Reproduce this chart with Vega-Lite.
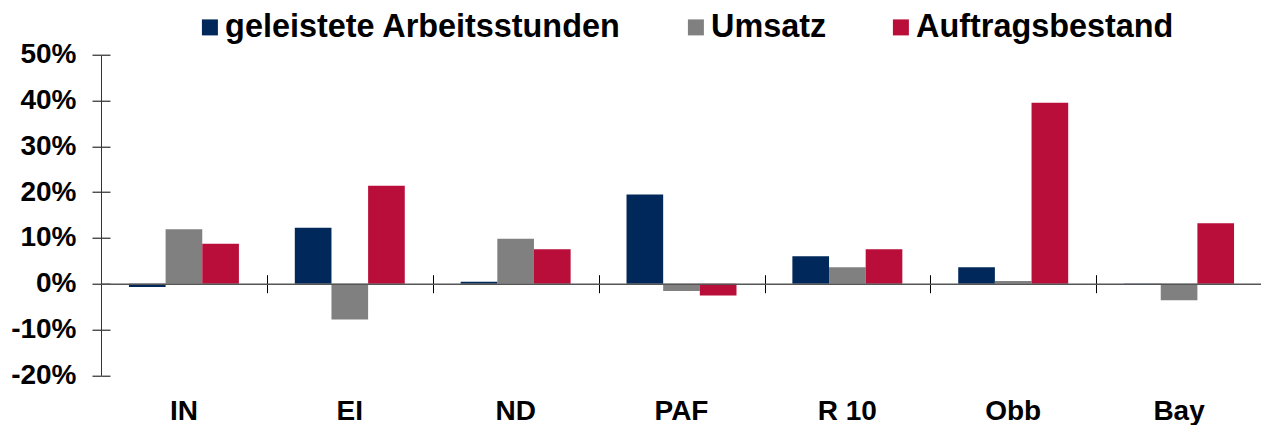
{
  "$schema": "https://vega.github.io/schema/vega-lite/v6.json",
  "width": 1161,
  "height": 320.6,
  "autosize": "none",
  "padding": {"left": 101, "top": 54.7, "right": 0, "bottom": 50},
  "background": "white",
  "config": {"view": {"stroke": null}, "font": "Liberation Sans"},
  "data": {"values": [
    {"region": "IN", "series": "geleistete Arbeitsstunden", "value": -0.7},
    {"region": "IN", "series": "Umsatz", "value": 11.9},
    {"region": "IN", "series": "Auftragsbestand", "value": 8.7},
    {"region": "EI", "series": "geleistete Arbeitsstunden", "value": 12.2},
    {"region": "EI", "series": "Umsatz", "value": -7.8},
    {"region": "EI", "series": "Auftragsbestand", "value": 21.4},
    {"region": "ND", "series": "geleistete Arbeitsstunden", "value": 0.4},
    {"region": "ND", "series": "Umsatz", "value": 9.8},
    {"region": "ND", "series": "Auftragsbestand", "value": 7.5},
    {"region": "PAF", "series": "geleistete Arbeitsstunden", "value": 19.5},
    {"region": "PAF", "series": "Umsatz", "value": -1.6},
    {"region": "PAF", "series": "Auftragsbestand", "value": -2.6},
    {"region": "R 10", "series": "geleistete Arbeitsstunden", "value": 6.0},
    {"region": "R 10", "series": "Umsatz", "value": 3.6},
    {"region": "R 10", "series": "Auftragsbestand", "value": 7.5},
    {"region": "Obb", "series": "geleistete Arbeitsstunden", "value": 3.6},
    {"region": "Obb", "series": "Umsatz", "value": 0.6},
    {"region": "Obb", "series": "Auftragsbestand", "value": 39.5},
    {"region": "Bay", "series": "geleistete Arbeitsstunden", "value": -0.3},
    {"region": "Bay", "series": "Umsatz", "value": -3.6},
    {"region": "Bay", "series": "Auftragsbestand", "value": 13.2}
  ]},
  "resolve": {"axis": {"x": "independent", "y": "independent"}},
  "layer": [
    {
      "mark": {"type": "bar", "opacity": 0},
      "encoding": {
        "x": {"field": "region", "type": "nominal", "sort": ["IN", "EI", "ND", "PAF", "R 10", "Obb", "Bay"],
              "scale": {"paddingInner": 0.337, "paddingOuter": 0.1685},
              "axis": {"orient": "bottom", "offset": -91.6, "labels": false, "domain": false, "ticks": true, "tickOffset": 83, "tickSize": -9, "tickColor": "#000000", "tickWidth": 1, "title": null, "grid": false}},
        "y": {"field": "value", "type": "quantitative", "scale": {"domain": [-20, 50], "nice": false, "zero": false},
              "axis": {"orient": "left", "values": [-20, -10, 0, 10, 20, 30, 40, 50], "labels": false, "domain": false, "tickSize": -9, "tickColor": "#000000", "grid": false, "title": null}}
      }
    },
    {
      "mark": {"type": "bar"},
      "encoding": {
        "x": {"field": "region", "type": "nominal", "sort": ["IN", "EI", "ND", "PAF", "R 10", "Obb", "Bay"],
              "axis": {"orient": "bottom", "domain": false, "ticks": false, "tickSize": 0, "labelPadding": 22, "labelAngle": 0,
                       "labelFont": "Liberation Sans", "labelFontSize": 28, "labelFontWeight": "bold", "labelColor": "#000000", "title": null, "grid": false}},
        "xOffset": {"field": "series", "type": "nominal", "sort": ["geleistete Arbeitsstunden", "Umsatz", "Auftragsbestand"], "scale": {"paddingInner": 0, "paddingOuter": 0}},
        "y": {"field": "value", "type": "quantitative",
              "axis": {"orient": "left", "values": [-20, -10, 0, 10, 20, 30, 40, 50], "labelExpr": "(datum.value < 0 ? '-' : '') + abs(datum.value) + '%'",
                       "tickSize": 9, "tickColor": "#000000", "domain": true, "domainColor": "#333333", "domainWidth": 1, "labelPadding": 16,
                       "labelFont": "Liberation Sans", "labelFontSize": 28, "labelFontWeight": "bold", "labelColor": "#000000", "grid": false, "title": null}},
        "color": {"field": "series", "type": "nominal",
                  "scale": {"domain": ["geleistete Arbeitsstunden", "Umsatz", "Auftragsbestand"], "range": ["#00285A", "#808080", "#B90E3A"]},
                  "legend": {"orient": "none", "legendX": 92.7, "legendY": -43.7, "direction": "horizontal", "title": null,
                             "labelFont": "Liberation Sans", "labelFontSize": 32.4, "labelFontWeight": "bold", "labelColor": "#000000", "labelLimit": 600,
                             "symbolType": "square", "symbolSize": 256, "symbolStrokeWidth": 0, "labelOffset": -1, "columnPadding": 58, "padding": 0}}
      }
    },
    {
      "mark": {"type": "bar", "opacity": 0},
      "encoding": {
        "x": {"field": "region", "type": "nominal", "sort": ["IN", "EI", "ND", "PAF", "R 10", "Obb", "Bay"],
              "axis": {"orient": "bottom", "offset": -91.6, "labels": false, "domain": true, "domainColor": "#555555", "domainWidth": 1.5, "ticks": true, "tickOffset": 83, "tickSize": 9, "tickColor": "#000000", "tickWidth": 1, "title": null, "grid": false, "zindex": 1}},
        "y": {"field": "value", "type": "quantitative", "axis": null}
      }
    }
  ]
}
